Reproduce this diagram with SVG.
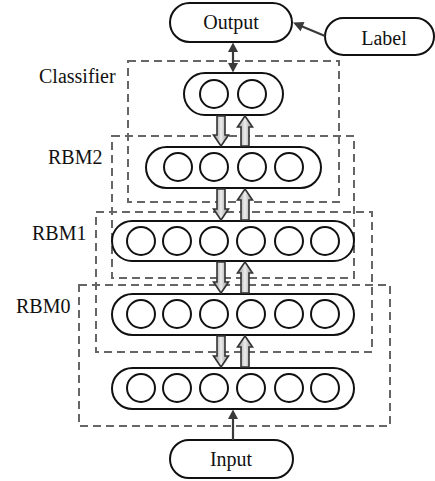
<svg xmlns="http://www.w3.org/2000/svg" width="435" height="481" viewBox="0 0 435 481">
<style>
.n{fill:#fff;stroke:#111;stroke-width:2}
.c{fill:#fff;stroke:#111;stroke-width:2}
.box{fill:none;stroke:#666;stroke-width:2;stroke-dasharray:8 5}
.ln{stroke:#3a3a3a;stroke-width:2.2;fill:none}
.hd{fill:#3a3a3a}
.ha{fill:url(#g);stroke:#333;stroke-width:1.6}
.q{font-family:'Liberation Serif',serif;font-size:20px;fill:#111}
</style>
<defs>
<linearGradient id="g" x1="0" y1="0" x2="1" y2="0">
<stop offset="0" stop-color="#8a8a8a"/>
<stop offset="0.5" stop-color="#eeeeee"/>
<stop offset="1" stop-color="#8a8a8a"/>
</linearGradient>
</defs>
<g id="boxes">
<rect id="box-classifier" class="box" x="128" y="61" width="211" height="141"/>
<rect id="box-rbm2" class="box" x="112" y="136" width="242" height="142"/>
<rect id="box-rbm1" class="box" x="96" y="212" width="276" height="140"/>
<rect id="box-rbm0" class="box" x="79" y="285" width="311" height="141"/>
</g>
<g id="labels">
<text class="q" x="39" y="83">Classifier</text>
<text class="q" x="48" y="164">RBM2</text>
<text class="q" x="32" y="240">RBM1</text>
<text class="q" x="16" y="313">RBM0</text>
</g>
<g id="output">
<rect class="n" x="170" y="3" width="122" height="39" rx="19.5"/>
<text class="q" x="231" y="29" text-anchor="middle">Output</text>
</g>
<g id="label">
<rect class="n" x="325" y="18" width="109" height="37" rx="18.5"/>
<text class="q" x="384" y="45" text-anchor="middle">Label</text>
</g>
<g id="input">
<rect class="n" x="170" y="440" width="123" height="38" rx="19"/>
<text class="q" x="231" y="466" text-anchor="middle">Input</text>
</g>
<g id="classifier">
<rect class="n" x="184" y="73" width="99" height="42" rx="21"/>
<circle class="c" cx="214" cy="94" r="14"/>
<circle class="c" cx="252" cy="94" r="14"/>
</g>
<g id="rbm2">
<rect class="n" x="146" y="147" width="175" height="41" rx="20.5"/>
<circle class="c" cx="178" cy="167" r="14"/>
<circle class="c" cx="214" cy="167" r="14"/>
<circle class="c" cx="252" cy="167" r="14"/>
<circle class="c" cx="289" cy="167" r="14"/>
</g>
<g id="rbm1">
<rect class="n" x="112" y="221" width="242" height="40" rx="20"/>
<circle class="c" cx="141" cy="241" r="14"/>
<circle class="c" cx="177" cy="241" r="14"/>
<circle class="c" cx="214" cy="241" r="14"/>
<circle class="c" cx="251" cy="241" r="14"/>
<circle class="c" cx="289" cy="241" r="14"/>
<circle class="c" cx="325" cy="241" r="14"/>
</g>
<g id="rbm0">
<rect class="n" x="112" y="294" width="242" height="41" rx="20.5"/>
<circle class="c" cx="141" cy="314" r="14"/>
<circle class="c" cx="177" cy="314" r="14"/>
<circle class="c" cx="214" cy="314" r="14"/>
<circle class="c" cx="251" cy="314" r="14"/>
<circle class="c" cx="289" cy="314" r="14"/>
<circle class="c" cx="325" cy="314" r="14"/>
</g>
<g id="visible">
<rect class="n" x="112" y="368" width="242" height="41" rx="20.5"/>
<circle class="c" cx="141" cy="388" r="14"/>
<circle class="c" cx="177" cy="388" r="14"/>
<circle class="c" cx="214" cy="388" r="14"/>
<circle class="c" cx="251" cy="388" r="14"/>
<circle class="c" cx="289" cy="388" r="14"/>
<circle class="c" cx="325" cy="388" r="14"/>
</g>
<g id="connectors">
<line class="ln" x1="233" y1="50" x2="233" y2="65"/>
<polygon class="hd" points="233,42.5 228,52 238,52"/>
<polygon class="hd" points="233,72.5 228,63 238,63"/>
<line class="ln" x1="325" y1="36" x2="301" y2="26"/>
<polygon class="hd" points="293,22.5 304.5,22 300.6,31.2"/>
<line class="ln" x1="233" y1="440" x2="233" y2="417"/>
<polygon class="hd" points="233,409.5 228,419 238,419"/>
<path class="ha" d="M217,116 L225,116 L225,135 L228.5,135 L221,146 L213.5,135 L217,135 Z"/>
<path class="ha" d="M241,146 L249,146 L249,127 L252.5,127 L245,116 L237.5,127 L241,127 Z"/>
<path class="ha" d="M217,189 L225,189 L225,209 L228.5,209 L221,220 L213.5,209 L217,209 Z"/>
<path class="ha" d="M241,220 L249,220 L249,200 L252.5,200 L245,189 L237.5,200 L241,200 Z"/>
<path class="ha" d="M217,262 L225,262 L225,282 L228.5,282 L221,293 L213.5,282 L217,282 Z"/>
<path class="ha" d="M241,293 L249,293 L249,273 L252.5,273 L245,262 L237.5,273 L241,273 Z"/>
<path class="ha" d="M217,336 L225,336 L225,356 L228.5,356 L221,367 L213.5,356 L217,356 Z"/>
<path class="ha" d="M241,367 L249,367 L249,347 L252.5,347 L245,336 L237.5,347 L241,347 Z"/>
</g>
</svg>
